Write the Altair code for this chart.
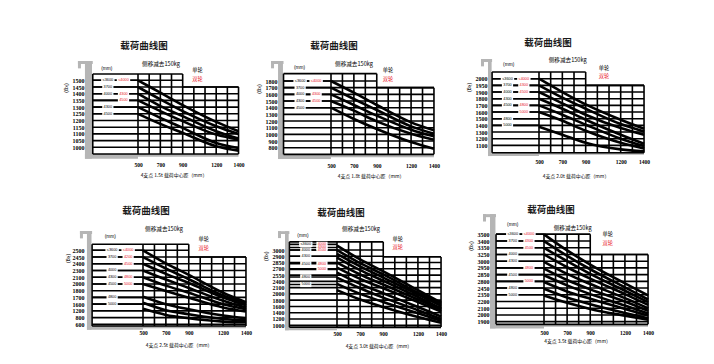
import altair as alt
import pandas as pd

# ------------------------------------------------------------------ data
TITLE = "载荷曲线图"
SUBTITLE = "侧移减去150kg"
SINGLE_WHEEL = "单轮"
DOUBLE_WHEEL = "双轮"
MM_UNIT = "(mm)"
KG_UNIT = "(kg)"
X_TICKS = [500, 700, 900, 1200, 1400]
CURVE_X = [500, 700, 900, 1200, 1400]
GRID_X = [500, 600, 700, 800, 900, 1000, 1100, 1200, 1300, 1400]
CAPACITIES = ["1.5t", "1.8t", "2.0t", "2.5t", "3.0t", "3.5t"]

KG_1 = ["1500", "1450", "1400", "1350", "1300", "1250", "1200", "1150", "1100", "1050", "1000"]
KG_2 = ["1800", "1700", "1600", "1500", "1400", "1300", "1200", "1100", "1000", "900", "800"]
KG_3 = ["2000", "1950", "1900", "1800", "1700", "1600", "1500", "1400", "1300", "1200", "1100"]
KG_4 = ["2500", "2450", "2400", "2300", "2100", "2000", "1800", "1700", "1600", "1200", "800", "600"]
KG_5 = ["3000", "2900", "2850", "2700", "2550", "2400", "2100", "2000", "1800", "1600", "1400", "1200", "1000"]
KG_6 = ["3500", "3400", "3350", "3250", "3000", "2950", "2850", "2800", "2450", "2350", "2200", "2100", "2000", "1900"]

# curves: row position (0 = first kg label) read at CURVE_X
CURVES_1 = [[0, 1.85, 3.7, 6.2, 7.6], [1, 2.85, 4.6, 6.85, 8.0], [2, 3.85, 5.35, 7.6, 8.7],
            [3, 4.6, 6.1, 8.1, 8.85], [4, 5.6, 7.1, 9.35, 10.1], [5, 6.5, 7.85, 9.85, 10.5]]
CURVES_2 = [[0, 1.75, 3.6, 6.2, 7.4], [1, 2.7, 4.35, 6.8, 7.9], [2, 3.6, 5.2, 7.3, 8.3],
            [3, 4.45, 6.05, 7.9, 8.8], [4, 5.7, 7.2, 9.15, 10.15]]
CURVES_3 = [[0, 2.0, 3.85, 6.15, 7.5], [1, 2.85, 4.5, 6.8, 7.9], [2, 3.7, 5.4, 7.4, 8.4],
            [3, 4.5, 6.15, 8.4, 9.75], [4, 5.4, 6.9, 9.0, 10.1], [5, 6.3, 7.8, 9.6, 10.45],
            [7.2, 8.4, 9.6, 10.6, 10.9]]
CURVES_4 = [[0, 1.95, 3.65, 6.3, 7.7], [1, 2.7, 4.3, 6.7, 7.9], [2, 3.5, 4.85, 7.0, 8.15],
            [3, 4.35, 5.6, 7.5, 8.5], [4, 5.25, 6.3, 8.0, 8.75], [5, 6.05, 7.05, 8.5, 9.1],
            [6.9, 8.0, 8.75, 9.7, 10.1], [7.8, 8.9, 9.5, 10.2, 10.4], [8.7, 9.6, 10.1, 10.6, 10.7]]
CURVES_5 = [[-0.7, 1.5, 3.4, 6.4, 8.4], [0, 2.1, 3.9, 6.8, 8.6], [0.6, 2.6, 4.4, 7.1, 8.9],
            [1.2, 3.2, 4.9, 7.5, 9.3], [2, 3.9, 5.5, 7.9, 9.5], [2.8, 4.6, 6.1, 8.3, 9.8],
            [3.6, 5.4, 6.9, 9.1, 10.6], [4.4, 6.1, 7.6, 9.6, 11.0], [5.4, 7.0, 8.3, 10.1, 11.3],
            [6.4, 7.9, 9.1, 10.7, 11.6]]
CURVES_6 = [[0, 2.4, 4.5, 7.3, 9.1], [1, 3.2, 5.2, 7.9, 9.7], [2, 4.0, 5.9, 8.4, 10.1],
            [3, 4.9, 6.6, 8.9, 10.5], [4.1, 5.9, 7.4, 9.5, 11.0], [5.1, 6.8, 8.2, 10.0, 11.4],
            [6.1, 7.6, 8.9, 10.6, 11.8], [7.1, 8.5, 9.6, 11.1, 12.1], [8.1, 9.4, 10.4, 11.7, 12.5],
            [9.1, 10.2, 11.1, 12.1, 12.7]]

# lifting-height labels: (row, single wheel, double wheel)
MM_1 = [(0, "≤3600", "≤4000"), (1, "3700", ""), (2, "4000", "4300"), (3, "", "4500"),
        (4, "4300", ""), (5, "4500", "")]
MM_2 = [(0, "≤3600", "≤4000"), (1, "3700", ""), (2, "4000", "4300"), (3, "4300", "4500"),
        (4, "4500", "")]
MM_3 = [(0, "≤3600", "≤4000"), (1, "3700", "4300"), (2, "4000", "4500"), (3, "4300", ""),
        (4, "4500", "4800"), (5, "", "5000"), (6, "4800", ""), (7, "5000", "")]
MM_4 = [(0, "≤3600", "≤4000"), (1, "3700", "4200"), (2, "", "4500"), (3, "4000", ""),
        (4, "4300", "4800"), (5, "4500", "5000"), (7, "4800", ""), (8, "5000", "")]
MM_5 = [(-0.9, "≤3600", "4000"), (-0.4, "", "4300"), (0, "4000", "4500"), (1, "4300", ""),
        (2.2, "4500", "4800"), (3.1, "", "5000"), (4.3, "4800", ""), (5.5, "5000", "")]
MM_6 = [(0, "≤3600", "≤4000"), (1, "3700", "4300"), (2, "", "4500"), (3, "4000", ""),
        (4, "4300", ""), (5, "", "4800"), (6, "4500", ""), (7, "", "5000"), (8, "4800", ""),
        (9, "5000", "")]

KG_LABELS = [KG_1, KG_2, KG_3, KG_4, KG_5, KG_6]
CURVES = [CURVES_1, CURVES_2, CURVES_3, CURVES_4, CURVES_5, CURVES_6]
MM_ROWS = [MM_1, MM_2, MM_3, MM_4, MM_5, MM_6]

# ------------------------------------------------------------------ layout / style
NUM_FONT = "Liberation Serif"
CJK_FONT = "Noto Sans CJK SC"
LAT_FONT = "Liberation Sans"
RED = "#e8202a"
GRAY = "#b5b5b5"
BLK_X, RED_X = 230, 370

LAYOUT = [
    dict(L=84, W=193, T=56, H=104, k=0.1117, x500=137, s=6.7, y0=79.3, ax=0, gray=(25, 88), border=95,
         top_u=-0.94, top_l=1, bottom=11.0, band=11.7, hook=-2.88, title=(554, -5.1),
         sub=(706, -2.45), single=(1033, -1.55), double=(1033, -0.15), axt=(822, 14.3),
         mm=(220, -1.75), kg=(-136, 1.15)),
    dict(L=277, W=210, T=56, H=105, k=0.1144, x500=330, s=6.67, y0=80, ax=0, gray=(37, 80), border=85,
         top_u=-1.1, top_l=1, bottom=11.0, band=11.7, hook=-3.0, title=(526, -5.25),
         sub=(701, -2.6), single=(998, -1.65), double=(998, -0.37), axt=(850, 14.35),
         mm=(225, -1.9), kg=(-121, 1.2)),
    dict(L=487, W=175, T=56, H=101, k=0.1167, x500=538, s=6.67, y0=77.7, ax=0, gray=(63, 94), border=98,
         top_u=-1.0, top_l=1, bottom=11.1, band=11.6, hook=-2.95, title=(577, -5.4),
         sub=(746, -2.75), single=(1057, -1.55), double=(1057, -0.4), axt=(817, 14.7),
         mm=(240, -2.1), kg=(-91, 1.3)),
    dict(L=84, W=193, T=211, H=117.5, k=0.1144, x500=142, s=6.73, y0=249.3, ax=0, gray=(10, 50), border=55,
         top_u=-0.9, top_l=1, bottom=11.25, band=11.8, hook=-2.87, title=(526, -5.85),
         sub=(684, -3.1), single=(1031, -1.7), double=(1031, -0.4), axt=(815, 14.2),
         mm=(214, -2.0), kg=(-147, 1.2)),
    dict(L=277, W=210, T=211, H=118.5, k=0.1156, x500=336, s=6.27, y0=249, ax=-7, gray=(50, 82), border=88,
         top_u=-1.3, top_l=1.1, bottom=12.3, band=12.8, hook=-3.0, title=(535, -5.95),
         sub=(708, -3.3), single=(1025, -1.8), double=(1025, -0.4), axt=(863, 15.4),
         mm=(205, -2.25), kg=(-106, 1.0)),
    dict(L=487, W=175, T=211, H=117.5, k=0.1156, x500=543, s=6.72, y0=233.3, ax=-2, gray=(33, 80), border=85,
         top_u=0, top_l=3, bottom=13.4, band=14.0, hook=-3.0, title=(560, -3.6),
         sub=(748, -1.0), single=(1051, 0), double=(1051, 1.25), axt=(790, 16.1),
         mm=(229, -1.4), kg=(-123, 1.75)),
]


def build(i):
    g = LAYOUT[i]
    labels, curves, mm_rows, cap = KG_LABELS[i], CURVES[i], MM_ROWS[i], CAPACITIES[i]
    k = g["k"]
    xl = 500 - (g["x500"] - g["L"]) / k
    xr = xl + g["W"] / k
    yt = (g["T"] - g["y0"]) / g["s"]
    yb = yt + g["H"] / g["s"]
    xs = alt.Scale(domain=[xl, xr], nice=False, zero=False)
    ys = alt.Scale(domain=[yt, yb], nice=False, zero=False, reverse=True)
    expr = "[" + ",".join("'%s'" % l for l in labels) + "][datum.value]"
    xaxis = alt.Axis(values=X_TICKS, format="d", domain=False, ticks=False, grid=False, labelPadding=1,
                     labelFont=NUM_FONT, labelFontSize=5.5, labelFontWeight="bold",
                     labelColor="black", labelFlush=False, labelOverlap=False, title=None)
    yaxis = alt.Axis(values=list(range(len(labels))), labelExpr=expr, domain=False, ticks=False,
                     grid=False, labelPadding=1, labelFont=NUM_FONT, labelFontSize=6,
                     labelFontWeight="bold", labelColor="black", labelOverlap=False,
                     labelFlush=False, offset=g["ax"], title=None)

    def X(f):
        return alt.X(f, type="quantitative", scale=xs, axis=xaxis)

    def Y(f):
        return alt.Y(f, type="quantitative", scale=ys, axis=yaxis)

    # gray bracket
    gl, gr = g["gray"]
    hx = gl - 7 / k
    gray = pd.DataFrame(
        [(gl, gr, g["hook"], g["band"]),
         (hx, g["border"], g["hook"], g["hook"] + 0.45),
         (hx, hx + 3 / k, g["hook"], g["hook"] + 1.1),
         (gl, 500, g["bottom"], g["band"]),
         (500, 1400, g["bottom"], g["bottom"] + (g["band"] - g["bottom"]) * 0.6)],
        columns=["x", "x2", "y", "y2"])
    gray_layer = alt.Chart(gray).mark_rect(color=GRAY).encode(
        x=X("x"), x2="x2:Q", y=Y("y"), y2="y2:Q")

    # horizontal grid rows
    hl = [(g["border"], 900, g["top_u"]), (900, 1400, g["top_l"]), (g["border"], 1400, g["bottom"])]
    for j in range(len(labels)):
        hl.append((g["border"], 1400 if j >= g["top_l"] - 0.05 else 900, j))
    for r, _, _ in mm_rows:
        hl.append((g["border"], 500, r))
    hdf = pd.DataFrame(hl, columns=["x", "x2", "y"])
    h_layer = alt.Chart(hdf).mark_rule(color="black", strokeWidth=1.6).encode(
        x=X("x"), x2="x2:Q", y=Y("y"))

    vl = [(g["border"], g["top_u"], g["bottom"])]
    for gx in GRID_X:
        vl.append((gx, g["top_u"] if gx <= 900 else g["top_l"], g["bottom"]))
    vdf = pd.DataFrame(vl, columns=["x", "y", "y2"])
    v_layer = alt.Chart(vdf).mark_rule(color="black", strokeWidth=1.6).encode(
        x=X("x"), y=Y("y"), y2="y2:Q")

    # white patches behind lifting-height labels
    wr = []
    lab = []
    for r, b, rd in mm_rows:
        for txt, cx, col in ((b, BLK_X, "black"), (rd, RED_X, RED)):
            if txt:
                hw = (len(txt) * 1.1 + 1.2) / k
                wr.append((cx - hw, cx + hw, r - 0.42, r + 0.42))
                lab.append((cx, r, txt, col, 3.8))
    wdf = pd.DataFrame(wr, columns=["x", "x2", "y", "y2"])
    w_layer = alt.Chart(wdf).mark_rect(color="white").encode(
        x=X("x"), x2="x2:Q", y=Y("y"), y2="y2:Q")

    cdf = pd.DataFrame([dict(x=x, y=y, c=ci) for ci, cv in enumerate(curves)
                        for x, y in zip(CURVE_X, cv)])
    c_layer = alt.Chart(cdf).mark_line(color="black", strokeWidth=2.6, interpolate="monotone").encode(
        x=X("x"), y=Y("y"), detail="c:N")

    lab.append((g["mm"][0], g["mm"][1], MM_UNIT, "black", 4.8))
    ldf = pd.DataFrame(lab, columns=["x", "y", "t", "c", "s"])
    l_layer = alt.Chart(ldf).mark_text(font=LAT_FONT, baseline="middle").encode(
        x=X("x"), y=Y("y"), text="t:N", color=alt.Color("c:N", scale=None),
        size=alt.Size("s:Q", scale=None))

    cjk = [(g["sub"][0], g["sub"][1], SUBTITLE, "black", 5.6),
           (g["single"][0], g["single"][1], SINGLE_WHEEL, "black", 5.2),
           (g["double"][0], g["double"][1], DOUBLE_WHEEL, RED, 5.2),
           (g["axt"][0], g["axt"][1], "4支点 %s 载荷中心距（mm）" % cap, "black", 4.9)]
    jdf = pd.DataFrame(cjk, columns=["x", "y", "t", "c", "s"])
    j_layer = alt.Chart(jdf).mark_text(font=CJK_FONT, baseline="middle").encode(
        x=X("x"), y=Y("y"), text="t:N", color=alt.Color("c:N", scale=None),
        size=alt.Size("s:Q", scale=None))

    tdf = pd.DataFrame([(g["title"][0], g["title"][1], TITLE)], columns=["x", "y", "t"])
    t_layer = alt.Chart(tdf).mark_text(font=CJK_FONT, fontWeight="bold", fontSize=9.5,
                                       color="#1a1a1a", baseline="middle").encode(
        x=X("x"), y=Y("y"), text="t:N")

    kdf = pd.DataFrame([(g["kg"][0], g["kg"][1], KG_UNIT)], columns=["x", "y", "t"])
    k_layer = alt.Chart(kdf).mark_text(font=LAT_FONT, fontSize=5.5, angle=90, color="black",
                                       baseline="middle").encode(
        x=X("x"), y=Y("y"), text="t:N")

    return alt.layer(gray_layer, h_layer, v_layer, w_layer, c_layer, l_layer, j_layer,
                     t_layer, k_layer).properties(width=g["W"], height=g["H"])


chart = alt.concat(*[build(i) for i in range(6)], columns=3, spacing={"row": 50, "column": 0},
                   bounds="flush", align="each").properties(
    padding={"left": 55, "top": 29, "right": 5, "bottom": 5},
    background="white",
).configure_view(stroke=None)

chart.save("out.html", embed_options={"renderer": "svg", "actions": False})
